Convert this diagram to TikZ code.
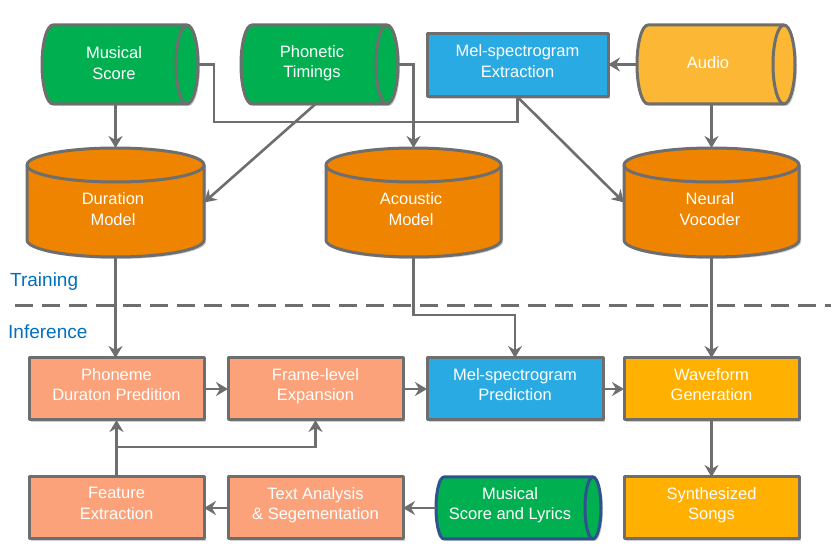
\documentclass[tikz,border=0pt]{standalone}
\usepackage{fontspec}
\setmainfont{Liberation Sans}
\usetikzlibrary{arrows.meta,shadows,calc}
\definecolor{bgray}{HTML}{6E6E6E}
\definecolor{cgreen}{HTML}{00B050}
\definecolor{corange}{HTML}{EF8400}
\definecolor{csalmon}{HTML}{FCA27A}
\definecolor{cblue}{HTML}{2AAAE2}
\definecolor{cyellow}{HTML}{FFB000}
\definecolor{caudio}{HTML}{FCB834}
\definecolor{cdark}{HTML}{2F528F}
\definecolor{lblue}{HTML}{0070C0}
\tikzset{
  shd/.style={drop shadow={shadow xshift=2pt,shadow yshift=-2pt,opacity=0.18,fill=black}},
  shapeline/.style={draw=bgray,line width=3pt,line join=round},
  boxn/.style={rectangle,shapeline,shd,minimum width=175pt,minimum height=62pt,inner sep=0pt,outer sep=0pt,text=white,align=center,text depth=9pt,font=\fontsize{16.5}{20.5}\selectfont},
  anch/.style={rectangle,draw=none,inner sep=0pt,outer sep=0pt},
  lbl/.style={text=white,align=center,inner sep=0pt,font=\fontsize{16.5}{20.5}\selectfont},
  conn/.style={draw=bgray,line width=2.6pt},
  arr/.style={conn,-{Stealth[length=12pt,width=14pt,inset=4pt]}},
  phase/.style={anchor=west,text=lblue,inner sep=0pt,font=\fontsize{19}{22}\selectfont}
}
% horizontal cylinder: x0,y0,x1,y1,rx,style
\newcommand\HCyl[6]{%
  \draw[#6,shd] ({#1+#5},#2) -- ({#3-#5},#2)
     arc[start angle=90,end angle=-90,x radius=#5pt,y radius={((#4)-(#2))/2*1pt}]
     -- ({#1+#5},#4)
     arc[start angle=270,end angle=90,x radius=#5pt,y radius={((#4)-(#2))/2*1pt}] -- cycle;
  \draw[#6,fill=none] ({#3-#5},#2)
     arc[start angle=90,end angle=270,x radius=#5pt,y radius={((#4)-(#2))/2*1pt}];
}
% vertical cylinder: x0,y0,x1,y1,ry,style
\newcommand\VCyl[6]{%
  \draw[#6,shd] (#1,{#2+#5}) -- (#1,{#4-#5})
     arc[start angle=180,end angle=360,x radius={((#3)-(#1))/2*1pt},y radius=#5pt]
     -- (#3,{#2+#5})
     arc[start angle=0,end angle=180,x radius={((#3)-(#1))/2*1pt},y radius=#5pt] -- cycle;
  \draw[#6,fill=none] (#1,{#2+#5})
     arc[start angle=180,end angle=360,x radius={((#3)-(#1))/2*1pt},y radius=#5pt];
}
\begin{document}
\begin{tikzpicture}[x=1pt,y=-1pt]
\useasboundingbox (0,0) rectangle (831,553);

% ---- top cylinders
\HCyl{42}{25}{198}{104}{11}{shapeline,fill=cgreen}
\node[anch,minimum width=156pt,minimum height=79pt] (ms) at (120,64.5) {};
\node[lbl] (mst) at (114,63) {Musical\\Score};

\HCyl{241}{25}{398}{104}{11}{shapeline,fill=cgreen}
\node[anch,minimum width=157pt,minimum height=79pt] (pt) at (319.5,64.5) {};
\node[lbl] (ptt) at (312,63) {Phonetic\\Timings};

\HCyl{637}{25}{795}{104}{11}{shapeline,fill=caudio}
\node[anch,minimum width=158pt,minimum height=79pt] (au) at (716,64.5) {};
\node[lbl] (aut) at (708,63) {Audio};

\node[boxn,fill=cblue,minimum width=181pt,minimum height=63pt] (mex) at (517.5,65.5) {Mel-spectrogram\\Extraction};

% ---- model cylinders
\VCyl{27}{148}{204}{257}{17}{shapeline,fill=corange}
\node[anch,minimum width=177pt,minimum height=109pt] (dm) at (115.5,202.5) {};
\node[lbl] (dmt) at (113,209) {Duration\\Model};

\VCyl{326}{148}{501}{257}{17}{shapeline,fill=corange}
\node[anch,minimum width=175pt,minimum height=109pt] (am) at (413.5,202.5) {};
\node[lbl] (amt) at (411,209) {Acoustic\\Model};

\VCyl{624}{148}{799}{257}{17}{shapeline,fill=corange}
\node[anch,minimum width=175pt,minimum height=109pt] (nv) at (711.5,202.5) {};
\node[lbl] (nvt) at (710,209) {Neural\\Vocoder};

% ---- phase labels and separator
\node[phase] (trn) at (10,282) {Training};
\node[phase] (inf) at (8,332) {Inference};
\coordinate (dl) at (15,306);
\coordinate (dr) at (831,306);
\draw[draw=bgray,line width=3pt,dash pattern=on 18pt off 9pt] (dl) -- (dr);

% ---- inference row 1
\node[boxn,fill=csalmon] (pdp) at (116.5,389) {Phoneme\\Duraton Predition};
\node[boxn,fill=csalmon] (fle) at (315.5,389) {Frame-level\\Expansion};
\node[boxn,fill=cblue,minimum width=176pt] (mel) at (515,389) {Mel-spectrogram\\Prediction};
\node[boxn,fill=cyellow] (wg) at (711.5,389) {Waveform\\Generation};

% ---- inference row 2
\node[boxn,fill=csalmon] (fe) at (116.5,508) {Feature\\Extraction};
\node[boxn,fill=csalmon] (tas) at (315.5,508) {Text Analysis\\\& Segementation};
\HCyl{436}{477}{601}{539}{8}{draw=cdark,line width=3pt,fill=cgreen}
\node[anch,minimum width=165pt,minimum height=62pt] (msl) at (518.5,508) {};
\node[lbl] (mslt) at (510,505) {Musical\\Score and Lyrics};
\node[boxn,fill=cyellow] (ss) at (711.5,508) {Synthesized\\Songs};

% ---- training connectors
\draw[arr] (dm.north |- ms.south) -- (dm.north);
\draw[arr] ([xshift=-4pt]pt.south) -- (dm.east);
\draw[arr] (pt.east) -| (am.north);
\coordinate (jn) at (517.5,122);
\draw[conn] (ms.east) -- ++(16,0) |- (jn) -- (mex.south);
\draw[arr] (mex.south) -- (nv.west);
\draw[arr] (au.west) -- (au.west -| mex.east);
\draw[arr] (nv.north |- au.south) -- (nv.north);

% ---- models to inference
\draw[arr] (dm.south) -- (dm.south |- pdp.north);
\draw[arr] (am.south) -- ++(0,58) -| (mel.north);
\draw[arr] (nv.south) -- (nv.south |- wg.north);

% ---- inference connectors
\draw[arr] (pdp.east) -- (fle.west);
\draw[arr] (fle.east) -- (mel.west);
\draw[arr] (mel.east) -- (wg.west);
\draw[arr] (wg.south) -- (ss.north);
\draw[arr] (msl.west) -- (tas.east);
\draw[arr] (tas.west) -- (fe.east);
\draw[arr] (fe.north) -- (pdp.south);
\coordinate (br) at (116.5,447);
\draw[arr] (br) -| (fle.south);
\end{tikzpicture}
\end{document}
